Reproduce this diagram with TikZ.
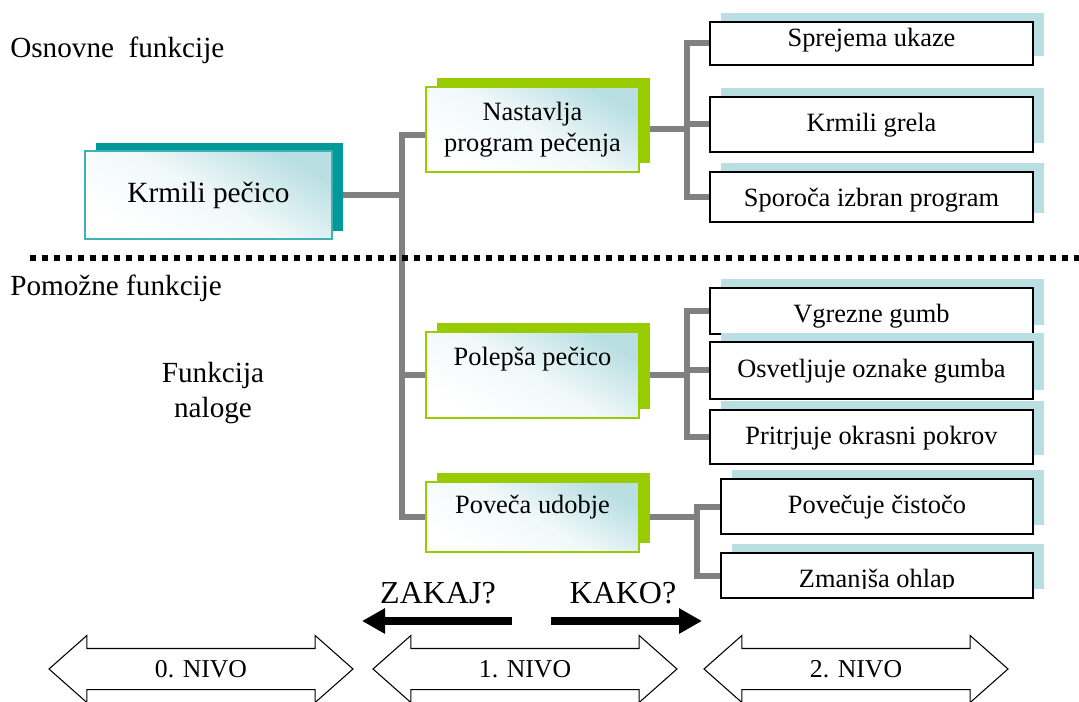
\documentclass[tikz,border=0pt]{standalone}
\usepackage{fontspec}
\setmainfont{Liberation Serif}
\usetikzlibrary{shadows,shapes.arrows,arrows.meta,backgrounds}

\definecolor{tealdark}{HTML}{009999}
\definecolor{tealedge}{HTML}{40B0B0}
\definecolor{leaf}{HTML}{99CC00}
\definecolor{paleblue}{HTML}{B9DFE3}
\definecolor{linkgray}{HTML}{808080}

% raise a label inside its box without changing the box size
\newcommand\lift[2]{\raisebox{#1}[\height][\depth]{#2}}

\tikzset{
  tint/.style={top color=paleblue, bottom color=white, middle color=white!80!paleblue, shading angle=-30},
  mainbox/.style={tint, draw=tealedge, line width=1.4pt,
    general shadow={fill=tealdark, shadow xshift=8.25pt, shadow yshift=6pt},
    minimum width=185.25pt, minimum height=66pt, inner sep=0pt,
    font=\fontsize{22}{26}\selectfont},
  leafbox/.style={tint, draw=leaf, line width=1.3pt,
    general shadow={fill=leaf, shadow xshift=8.25pt, shadow yshift=6.4pt},
    minimum width=159.75pt, inner sep=0pt, align=center,
    font=\fontsize{19.8}{23.25}\selectfont},
  tasktext/.style={inner sep=0pt, text height=14.85pt, text depth=3.76pt,
    font=\fontsize{19.8}{23}\selectfont},
  taskbox/.style={tasktext, fill=white, draw=black, line width=1.6pt,
    general shadow={fill=paleblue, shadow xshift=8.25pt, shadow yshift=6.4pt},
    minimum width=242.25pt},
  link/.style={draw=linkgray, line width=4.5pt},
  separator/.style={draw=black, line width=4.5pt, dash pattern=on 4.5pt off 4.5pt},
  sidelabel/.style={inner sep=0pt, font=\fontsize{21.9}{26.25}\selectfont},
  question/.style={inner sep=0pt, font=\fontsize{24}{28}\selectfont},
  bigarrow/.style={line width=6pt, -{Triangle[length=17.25pt, width=18pt]}},
  levelarrow/.style={double arrow, draw=black, fill=white, line width=0.8pt,
    double arrow head extend=9.75pt, double arrow tip angle=83,
    minimum height=228pt, inner xsep=0pt, inner ysep=0pt,
    text height=21.4pt, text depth=8.6pt,
    font=\fontsize{19.3}{23}\selectfont},
}

\begin{document}
\begin{tikzpicture}[x=0.75pt, y=-0.75pt]
\useasboundingbox (0,0) rectangle (1079,702);

% side labels
\node[sidelabel, anchor=base west] (basic) at (10,58) {Osnovne~ funkcije};
\node[sidelabel, anchor=base west] (aux) at (10,296) {Pomožne funkcije};
\node[sidelabel, align=center] (purpose) at (213,393) {Funkcija\\naloge};

% separator between basic and auxiliary functions
\coordinate (sepL) at (30,258);
\coordinate (sepR) at (1079,258);
\draw[separator] (sepL) -- (sepR);

% level 0
\node[mainbox] (krmili) at (208.5,195) {Krmili pečico};

% level 1
\node[leafbox, minimum height=63.75pt] (nastavlja) at (532.5,129.5) {Nastavlja\\program pečenja};
\node[leafbox, minimum height=64.5pt] (polepsa) at (532.5,375) {\lift{12pt}{Polepša pečico}};
\node[leafbox, minimum height=52.5pt] (poveca) at (532.5,517) {\lift{7.5pt}{Poveča udobje}};

% level 2
\node[taskbox, minimum height=32.25pt] (sprejema) at (871.5,43.5) {\lift{3.4pt}{Sprejema ukaze}};
\node[taskbox, minimum height=41.25pt] (grela) at (871.5,124.5) {Krmili grela};
\node[taskbox, minimum height=37.5pt] (sporoca) at (871.5,197) {\lift{-1.5pt}{Sporoča izbran program}};
\node[taskbox, minimum height=34.5pt] (vgrezne) at (871.5,311) {\lift{-3pt}{Vgrezne gumb}};
\node[taskbox, minimum height=42.75pt] (osvetljuje) at (871.5,370.5) {Osvetljuje oznake gumba};
\node[taskbox, minimum height=40.5pt] (pritrjuje) at (871.5,437) {Pritrjuje okrasni pokrov};
\node[taskbox, minimum width=234pt, minimum height=41.25pt] (povecuje) at (877,506.5) {Povečuje čistočo};
\node[taskbox, minimum width=234pt, minimum height=33.75pt,
  path picture={
    \clip (path picture bounding box.north west) rectangle ([yshift=7pt]path picture bounding box.south east);
    \node[tasktext] (zmanjsa-text) at ([yshift=-3.4pt]path picture bounding box.center) {Zmanjša ohlap};
  }] (zmanjsa) at (877,575.5) {};

% connectors
\begin{scope}[on background layer]
  \coordinate (jA) at (402,195);
  \draw[link] (krmili.east) -- (jA);
  \draw[link] ([yshift=-4pt]nastavlja.west) -| (jA) |- (poveca.west);
  \draw[link] (jA |- polepsa.west) -- (polepsa.west);

  \coordinate (jB) at (687,130);
  \draw[link] (nastavlja.east) -- (nastavlja.east -| jB);
  \draw[link] (sprejema.west) -| (jB) |- (sporoca.west);
  \draw[link] (jB |- grela.west) -- (grela.west);

  \coordinate (jC) at (687,375);
  \draw[link] (polepsa.east) -- (polepsa.east -| jC);
  \draw[link] (vgrezne.west) -| (jC) |- (pritrjuje.west);
  \draw[link] (jC |- osvetljuje.west) -- (osvetljuje.west);

  \coordinate (jD) at (697,517);
  \draw[link] (poveca.east) -- (poveca.east -| jD);
  \draw[link] (povecuje.west) -| (jD) |- (zmanjsa.west);
\end{scope}

% direction of reading
\node[question, anchor=base] (why) at (438,603) {ZAKAJ?};
\node[question, anchor=base] (how) at (623,603) {KAKO?};
\coordinate (whyS) at (512,621);
\coordinate (whyE) at (362,621);
\coordinate (howS) at (551,621);
\coordinate (howE) at (702,621);
\draw[bigarrow] (whyS) -- (whyE);
\draw[bigarrow] (howS) -- (howE);

% levels
\node[levelarrow] (lvl0) at (201,669) {0. NIVO};
\node[levelarrow] (lvl1) at (525,669) {1. NIVO};
\node[levelarrow] (lvl2) at (856,669) {2. NIVO};
\end{tikzpicture}
\end{document}
